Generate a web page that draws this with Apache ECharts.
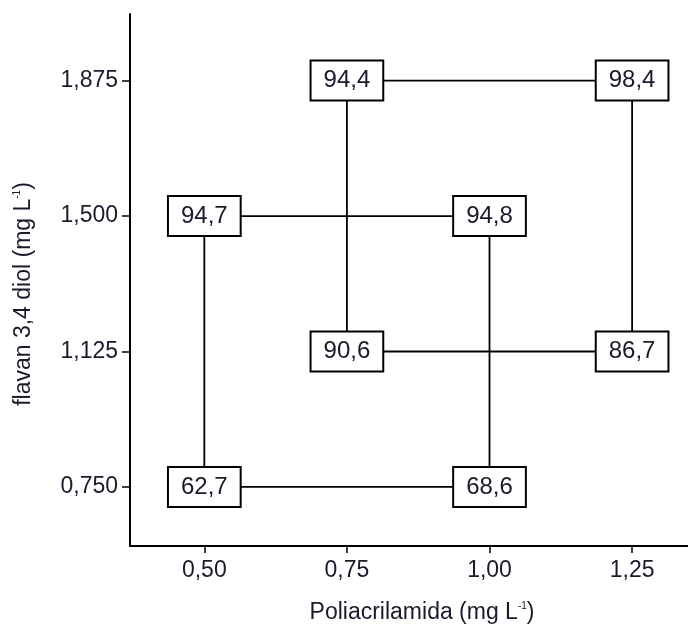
<!DOCTYPE html>
<html>
<head>
<meta charset="utf-8">
<script src="https://cdn.jsdelivr.net/npm/echarts@6/dist/echarts.min.js"></script>
<style>html,body{margin:0;padding:0;background:#fff}#c{width:688px;height:624px}</style>
</head>
<body>
<div id="c"></div>
<script>
// Factor levels (x: Poliacrilamida, y: flavan 3,4 diol) and responses
const xLevels = [0.50, 1.00, 0.50, 1.00, 0.75, 1.25, 0.75, 1.25];
const yLevels = [0.750, 0.750, 1.500, 1.500, 1.125, 1.125, 1.875, 1.875];
const responses = ["62,7", "68,6", "94,7", "94,8", "90,6", "86,7", "94,4", "98,4"];
const xTicks = [0.50, 0.75, 1.00, 1.25];
const yTicks = [0.750, 1.125, 1.500, 1.875];
// cube edges as index pairs
const edges = [[0,1],[2,3],[0,2],[1,3],[4,5],[6,7],[4,6],[5,7]];

const font = '"Liberation Sans", Arial, sans-serif';
const txt = '#1a1a2a';
const pts = xLevels.map((x, i) => [x, yLevels[i], responses[i]]);

const lineSeries = edges.map(([a, b]) => ({
  type: 'line',
  data: [[xLevels[a], yLevels[a]], [xLevels[b], yLevels[b]]],
  symbol: 'none',
  lineStyle: { color: '#000', width: 1.8 },
  z: 2,
  silent: true,
  animation: false
}));

const richName = {
  a: { fontFamily: font, fontSize: 23, color: txt },
  s: { fontFamily: font, fontSize: 10, color: txt, padding: [0, 0, 12, 0] }
};

const chart = echarts.init(document.getElementById('c'));
chart.setOption({
  animation: false,
  backgroundColor: '#fff',
  grid: { left: 130, right: 0, top: 14, bottom: 78, containLabel: false, outerBoundsMode: 'none' },
  xAxis: {
    type: 'value',
    min: 0.3697, max: 1.348,
    name: '{a|Poliacrilamida (mg L}{s|-1}{a|)}',
    nameLocation: 'middle',
    nameGap: 55,
    nameTextStyle: { fontFamily: font, fontSize: 23, color: txt, padding: [0, 0, 0, 26], rich: richName },
    axisLine: { show: true, lineStyle: { color: '#000', width: 2 } },
    axisTick: { show: true, customValues: xTicks, length: 7, lineStyle: { color: '#000', width: 1.5 } },
    axisLabel: { customValues: xTicks, fontFamily: font, fontSize: 23, color: txt, margin: 13,
      formatter: v => v.toFixed(2).replace('.', ',') },
    splitLine: { show: false }
  },
  yAxis: {
    type: 'value',
    min: 0.5865, max: 2.0593,
    name: '{a|flavan 3,4 diol (mg L}{s|-1}{a|)}',
    nameLocation: 'middle',
    nameGap: 95,
    nameTextStyle: { fontFamily: font, fontSize: 23, color: txt, padding: [0, 28, 0, 0], rich: richName },
    axisLine: { show: true, lineStyle: { color: '#000', width: 2 } },
    axisTick: { show: true, customValues: yTicks, length: 8, lineStyle: { color: '#000', width: 1.5 } },
    axisLabel: { customValues: yTicks, fontFamily: font, fontSize: 23, color: txt, margin: 12,
      formatter: v => v.toFixed(3).replace('.', ',') },
    splitLine: { show: false }
  },
  series: lineSeries.concat([{
    type: 'scatter',
    data: pts,
    symbolSize: 1,
    itemStyle: { color: '#fff', opacity: 1 },
    z: 10,
    label: {
      show: true,
      position: 'inside',
      formatter: p => p.data[2],
      fontFamily: font,
      fontSize: 24,
      color: txt,
      backgroundColor: '#fff',
      borderColor: '#000',
      borderWidth: 2,
      padding: [8, 12, 6, 12]
    }
  }])
});
</script>
</body>
</html>
